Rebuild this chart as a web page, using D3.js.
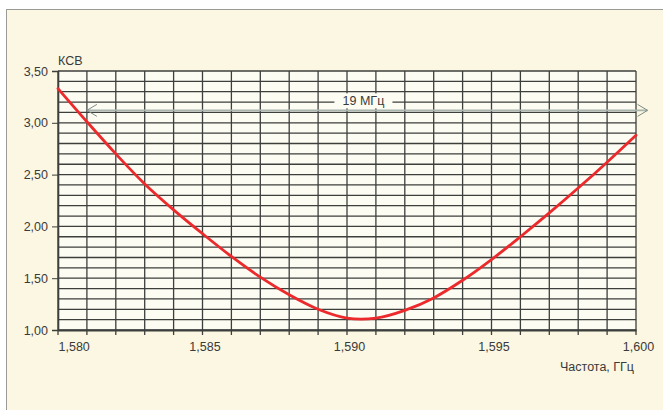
<!DOCTYPE html>
<html>
<head>
<meta charset="utf-8">
<script src="https://cdn.jsdelivr.net/npm/d3@7"></script>
<style>
  body { margin: 0; background: #ffffff; }
  svg { display: block; }
  text { font-family: "Liberation Sans Narrow", "Arial Narrow", "Liberation Sans", sans-serif; fill: #3a3a3a; }
</style>
</head>
<body>
<div id="chart1"></div>
<script>
// frequency, GHz (step 1 MHz) and VSWR
var freq = [1.580, 1.581, 1.582, 1.583, 1.584, 1.585, 1.586, 1.587, 1.588, 1.589,
            1.590, 1.591, 1.592, 1.593, 1.594, 1.595, 1.596, 1.597, 1.598, 1.599, 1.600];
var vswr = [3.33, 3.01, 2.70, 2.41, 2.16, 1.93, 1.71, 1.51, 1.34, 1.20,
            1.115, 1.115, 1.19, 1.31, 1.48, 1.68, 1.90, 2.13, 2.37, 2.62, 2.88];

var xTicks = [1.580, 1.585, 1.590, 1.595, 1.600];
var yTicks = [1.00, 1.50, 2.00, 2.50, 3.00, 3.50];
var bandwidth = [1.5810, 1.6004];   // the "19 МГц" arrow
var bandLabel = "19 МГц";

var data = freq.map(function (f, i) { return { f: f, v: vswr[i] }; });

var W = 663, H = 410;
var margin = { top: 71, right: 27, bottom: 80, left: 58 },
    width = W - margin.left - margin.right,
    height = H - margin.top - margin.bottom;

var fmt = function (d, n) { return d.toFixed(n).replace(".", ","); };

var svg = d3.select("#chart1").append("svg")
    .attr("width", W)
    .attr("height", H);

// panel
svg.append("rect")
    .attr("x", 6.5).attr("y", 9.5)
    .attr("width", W).attr("height", H)
    .attr("fill", "#fbf7e2")
    .attr("stroke", "#9a9a96")
    .attr("stroke-width", 1);

var chart = svg.append("g")
    .attr("transform", "translate(" + margin.left + "," + margin.top + ")");

var x = d3.scaleLinear().domain([1.580, 1.600]).range([0, width]);
var y = d3.scaleLinear().domain([1.0, 3.5]).range([height, 0]);

chart.append("rect")
    .attr("width", width).attr("height", height)
    .attr("fill", "#fdfcf3");

// grid
chart.append("g")
    .selectAll("line")
    .data(d3.range(0, 21).map(function (i) { return 1.580 + i * 0.001; }))
    .enter().append("line")
    .attr("x1", function (d) { return x(d); })
    .attr("x2", function (d) { return x(d); })
    .attr("y1", 0).attr("y2", height + 5)
    .attr("stroke", "#3c3f3c")
    .attr("stroke-width", 1.3);

chart.append("g")
    .selectAll("line")
    .data(d3.range(0, 26).map(function (i) { return 1.0 + i * 0.1; }))
    .enter().append("line")
    .attr("x1", 0).attr("x2", width)
    .attr("y1", function (d) { return y(d); })
    .attr("y2", function (d) { return y(d); })
    .attr("stroke", "#3c3f3c")
    .attr("stroke-width", 1.3);

// y axis
var yAxis = chart.append("g")
    .call(d3.axisLeft(y).tickValues(yTicks).tickSize(6).tickFormat(function (d) { return fmt(d, 2); }));
yAxis.select(".domain").attr("stroke", "#3c3f3c").attr("stroke-width", 1.6);
yAxis.selectAll(".tick line").attr("stroke", "#3c3f3c");
yAxis.selectAll("text").attr("x", -10).style("font-size", "12.5px").attr("fill", "#3a3a3a");

// x axis labels
var xAxis = chart.append("g")
    .attr("transform", "translate(0," + height + ")")
    .call(d3.axisBottom(x).tickValues(xTicks).tickSize(0).tickPadding(12).tickFormat(function (d) { return fmt(d, 3); }));
xAxis.select(".domain").attr("stroke", "#3c3f3c").attr("stroke-width", 1.8);
xAxis.selectAll("text").style("font-size", "12.5px").attr("fill", "#3a3a3a")
    .attr("text-anchor", function (d, i) { return i === 0 ? "start" : "middle"; })
    .attr("dx", function (d, i) { return i === 0 ? 0 : 2; });

chart.append("text")
    .attr("x", 0).attr("y", -6)
    .style("font-size", "12.5px")
    .text("КСВ");

chart.append("text")
    .attr("x", width - 2).attr("y", height + 41)
    .attr("text-anchor", "end")
    .style("font-size", "12.5px")
    .text("Частота, ГГц");

// bandwidth arrow
var ay = y(3.12);
var arrow = chart.append("g").attr("stroke", "#7d8a86").attr("fill", "none").attr("stroke-width", 1);
arrow.append("line")
    .attr("x1", x(bandwidth[0])).attr("x2", x(bandwidth[1]))
    .attr("y1", ay).attr("y2", ay)
    .attr("stroke", "#a8b4ae").attr("stroke-width", 1.6);
arrow.append("path")
    .attr("d", "M" + (x(bandwidth[0]) + 10) + "," + (ay - 6) + "L" + x(bandwidth[0]) + "," + ay + "L" + (x(bandwidth[0]) + 10) + "," + (ay + 6));
arrow.append("path")
    .attr("d", "M" + (x(bandwidth[1]) - 10) + "," + (ay - 6) + "L" + x(bandwidth[1]) + "," + ay + "L" + (x(bandwidth[1]) - 10) + "," + (ay + 6));

var lx = x(1.5905);
chart.append("rect")
    .attr("x", lx - 27).attr("y", ay - 17)
    .attr("width", 58).attr("height", 15)
    .attr("fill", "#fdfcf3");
chart.append("text")
    .attr("x", lx + 2).attr("y", ay - 5)
    .attr("text-anchor", "middle")
    .style("font-size", "12.5px")
    .text(bandLabel);

// curve
var line = d3.line()
    .x(function (d) { return x(d.f); })
    .y(function (d) { return y(d.v); })
    .curve(d3.curveCatmullRom.alpha(0.5));

chart.append("path")
    .datum(data)
    .attr("d", line)
    .attr("fill", "none")
    .attr("stroke", "#ec2a2c")
    .attr("stroke-width", 2.8)
    .attr("stroke-linecap", "round");
</script>
</body>
</html>
